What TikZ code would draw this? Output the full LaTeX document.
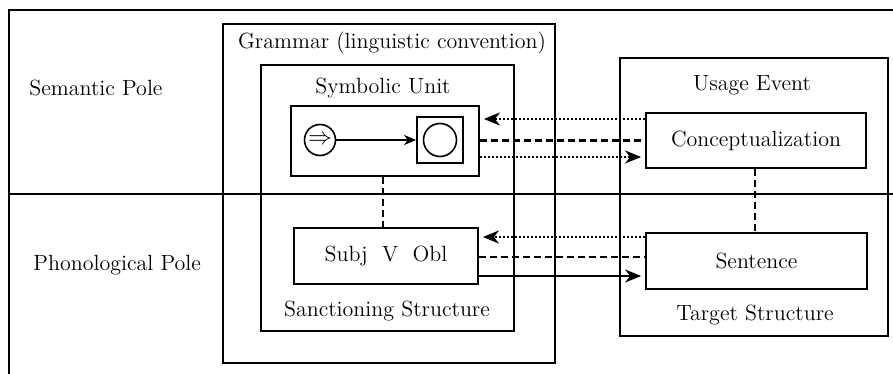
\documentclass[tikz,border=0pt]{standalone}
\usetikzlibrary{arrows.meta}
\begin{document}
\begin{tikzpicture}[x=0.5pt,y=-0.5pt,
  every node/.style={font=\fontsize{11}{13}\selectfont},
  frame/.style={draw,line width=1.1pt},
  bigbox/.style={draw,line width=1.1pt,rectangle,inner sep=0pt},
  smallbox/.style={draw,line width=0.9pt,rectangle,inner sep=0pt},
  dotline/.style={line width=1.2pt,dash pattern=on 1.1pt off 0.9pt},
  dashline/.style={line width=1.1pt,dash pattern=on 3.5pt off 2pt},
  solidline/.style={line width=1.1pt},
  tip/.style={-{Stealth[length=8pt,width=6.5pt,inset=2.5pt]}},
  lbl/.style={inner sep=0pt}]
\useasboundingbox (0,0) rectangle (893,374);
% outer frame
\draw[frame] (9,374) -- (9,10) -- (893,10);
\draw[frame] (9,194) -- (893,194);
% boxes
\node[bigbox,minimum width=166pt,minimum height=169.5pt] (gram) at (389,193.5) {};
\node[smallbox,minimum width=126.5pt,minimum height=133pt] (unit) at (387.5,198) {};
\node[smallbox,minimum width=94pt,minimum height=35pt] (sym) at (385,141) {};
\node[smallbox,minimum width=92pt,minimum height=28pt] (subj) at (386,256) {Subj\ \ V\ \ Obl};
\node[bigbox,minimum width=134pt,minimum height=139pt] (usage) at (754,197) {};
\node[smallbox,minimum width=110pt,minimum height=27.5pt] (conc) at (756,140.5) {Conceptualization};
\node[smallbox,minimum width=110.5pt,minimum height=28pt] (sent) at (756.5,261) {Sentence};
% symbolic content
\node[draw,circle,line width=0.8pt,minimum size=15.5pt,inner sep=0pt] (c1) at (320,140) {\large$\Rightarrow$};
\node[draw,rectangle,line width=0.9pt,minimum size=23pt,inner sep=0pt] (sq) at (440,140) {};
\node[draw,circle,line width=0.8pt,minimum size=16.5pt,inner sep=0pt] (c2) at (440,140) {};
\draw[line width=0.8pt,-{Stealth[length=6pt,width=5pt,inset=1.8pt]}] (c1) -- (sq.west);
% labels
\node[lbl] (tgram) at (392,43) {Grammar (linguistic convention)};
\node[lbl] (tunit) at (383,88) {Symbolic Unit};
\node[lbl] (tusage) at (752,85) {Usage Event};
\node[lbl] (tsanc) at (387,311) {Sanctioning Structure};
\node[lbl] (ttarg) at (755,315) {Target Structure};
\node[lbl,anchor=west] (tsem) at (29,88) {Semantic Pole};
\node[lbl,anchor=west] (tphon) at (33,265) {Phonological Pole};
% connectors upper
\draw[dotline,tip,shorten >=2pt] ([yshift=10.75pt]conc.west) -- ([yshift=10.75pt]conc.west -| sym.east);
\draw[dashline] ([yshift=0.25pt]sym.east) -- ([yshift=0.25pt]sym.east -| conc.west);
\draw[dotline,tip,shorten >=2pt] ([yshift=-8pt]sym.east) -- ([yshift=-8pt]sym.east -| conc.west);
% connectors lower
\draw[dotline,tip,shorten >=2pt] ([yshift=12pt]sent.west) -- ([yshift=12pt]sent.west -| subj.east);
\draw[dashline] ([yshift=-0.5pt]subj.east) -- ([yshift=-0.5pt]subj.east -| sent.west);
\draw[solidline,tip,shorten >=2pt] ([yshift=-10pt]subj.east) -- ([yshift=-10pt]subj.east -| sent.west);
% verticals
\draw[dashline] ([xshift=-1pt]sym.south) -- ([xshift=-1pt]sym.south |- subj.north);
\draw[dashline] ([xshift=-0.5pt]conc.south) -- ([xshift=-0.5pt]conc.south |- sent.north);
\end{tikzpicture}
\end{document}
